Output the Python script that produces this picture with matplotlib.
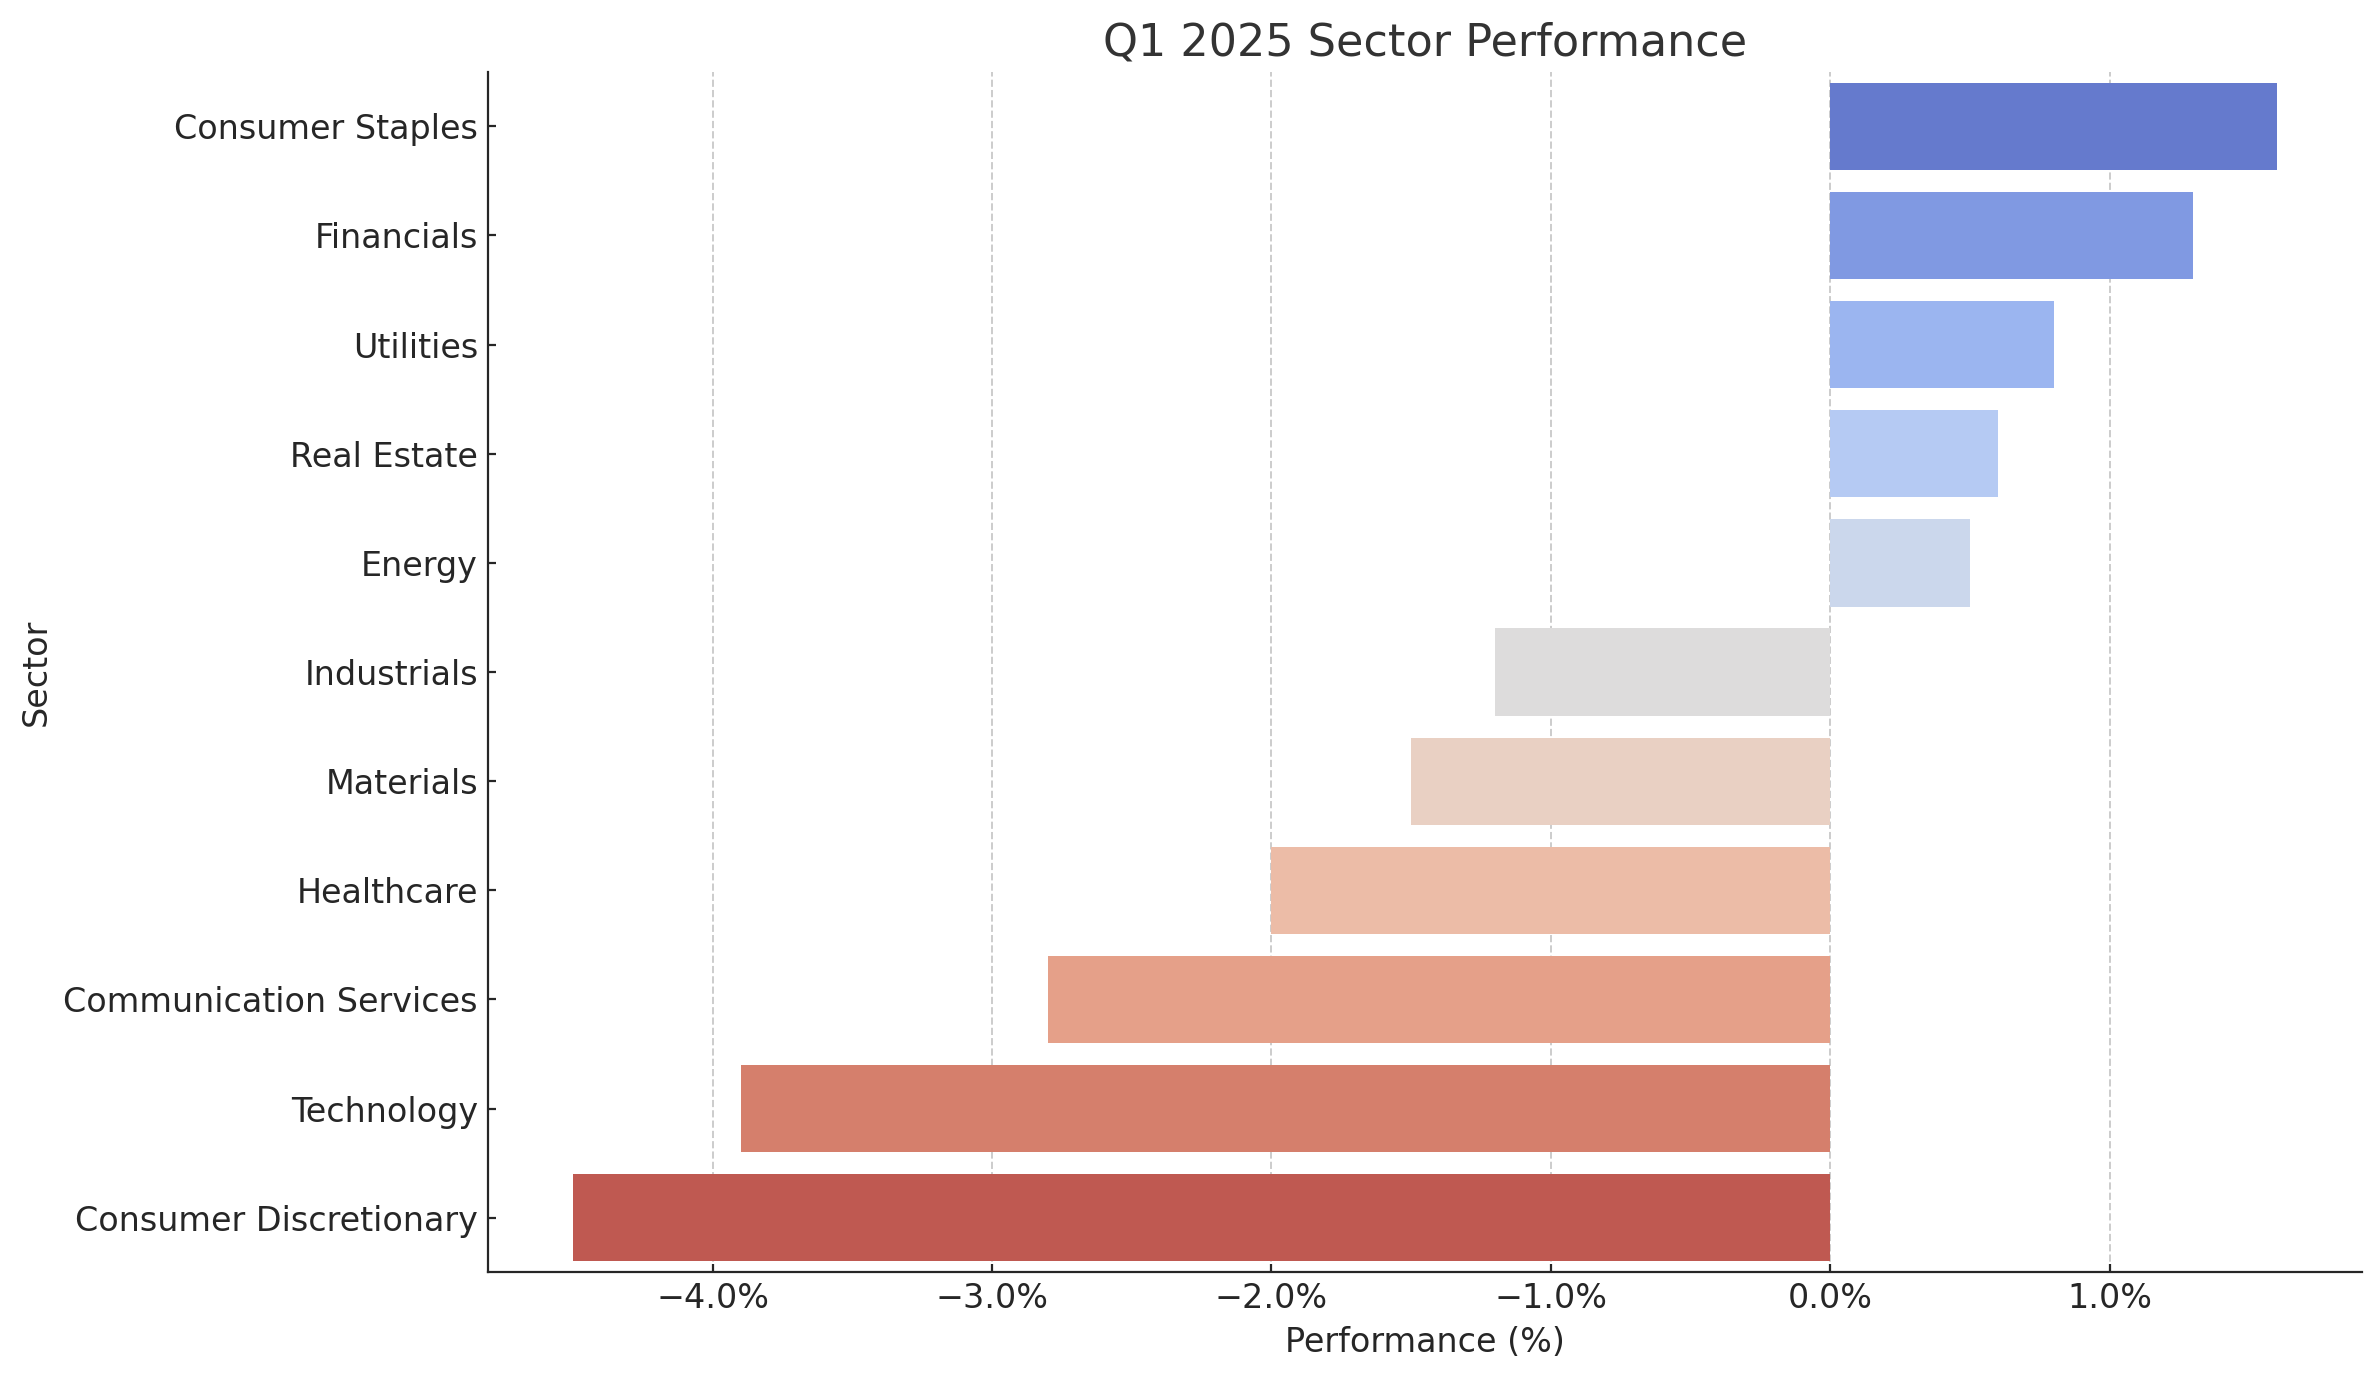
import matplotlib
matplotlib.use("Agg")
import matplotlib.pyplot as plt
import seaborn as sns
from matplotlib.ticker import PercentFormatter

# sector performance, Q1 2025 (sorted best -> worst)
sectors = ["Consumer Staples", "Financials", "Utilities", "Real Estate", "Energy",
           "Industrials", "Materials", "Healthcare", "Communication Services",
           "Technology", "Consumer Discretionary"]
performance = [1.6, 1.3, 0.8, 0.6, 0.5, -1.2, -1.5, -2.0, -2.8, -3.9, -4.5]

# seaborn barplot look: coolwarm palette at 0.75 saturation
colors = [sns.desaturate(c, 0.75) for c in sns.color_palette("coolwarm", len(sectors))]

plt.rcParams["font.size"] = 12
plt.rcParams["text.color"] = "#262626"
plt.rcParams["axes.labelcolor"] = "#262626"
plt.rcParams["xtick.color"] = "#262626"
plt.rcParams["ytick.color"] = "#262626"
plt.rcParams["axes.edgecolor"] = "#262626"

fig, ax = plt.subplots(figsize=(11.895, 6.9), dpi=200)
fig.subplots_adjust(left=0.205, right=0.993, top=0.948, bottom=0.078)

ypos = list(range(len(sectors)))
ax.barh(ypos, performance, height=0.8, color=colors, zorder=2)
ax.set_yticks(ypos)
ax.set_yticklabels(sectors)
ax.set_ylim(len(sectors) - 0.5, -0.5)

ax.xaxis.set_major_formatter(PercentFormatter(xmax=100, decimals=1))
ax.tick_params(direction="in", length=3)
ax.grid(axis="x", linestyle="--", color="#cccccc", linewidth=0.7, zorder=0)
ax.set_axisbelow(True)

ax.spines["top"].set_visible(False)
ax.spines["right"].set_visible(False)

ax.set_title("Q1 2025 Sector Performance", fontsize=16, color="#333333")
ax.set_xlabel("Performance (%)")
ax.set_ylabel("Sector")

plt.savefig("out.png", dpi=200)
